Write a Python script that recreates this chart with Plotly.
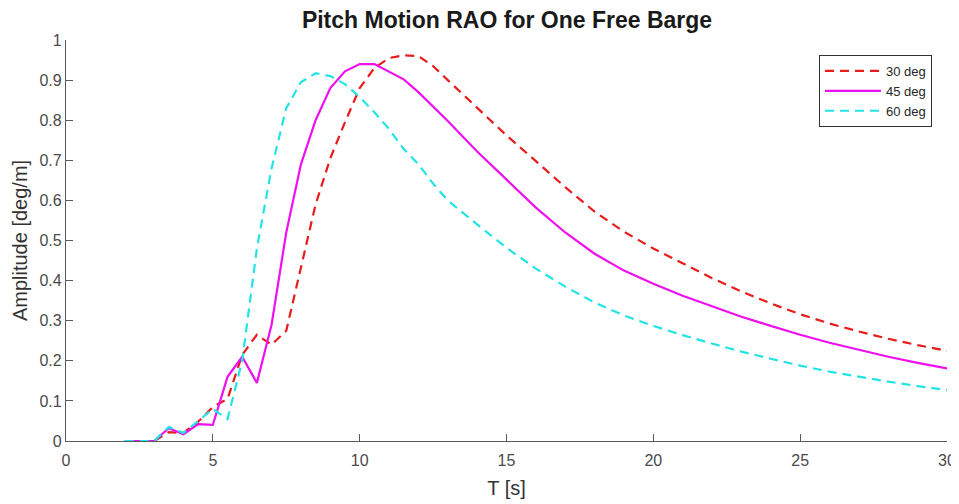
import plotly.graph_objects as go

T = [2, 2.5, 3, 3.5, 4, 4.5, 5, 5.5, 6, 6.5, 7, 7.5, 8, 8.5, 9, 9.5, 10, 10.5,
     11, 11.5, 12, 12.5, 13, 14, 15, 16, 17, 18, 19, 20, 21, 22, 23, 24, 25,
     26, 27, 28, 29, 30]

rao_30 = [0, 0, 0, 0.022, 0.02, 0.048, 0.085, 0.105, 0.215, 0.265, 0.24, 0.275,
          0.43, 0.59, 0.705, 0.795, 0.88, 0.93, 0.955, 0.962, 0.96, 0.935, 0.9,
          0.83, 0.762, 0.698, 0.633, 0.572, 0.522, 0.48, 0.442, 0.406, 0.373,
          0.343, 0.316, 0.293, 0.273, 0.255, 0.239, 0.225]

rao_45 = [0, 0, 0, 0.032, 0.017, 0.042, 0.04, 0.16, 0.21, 0.145, 0.29, 0.52,
          0.69, 0.80, 0.88, 0.922, 0.94, 0.94, 0.922, 0.902, 0.87, 0.835, 0.798,
          0.722, 0.652, 0.582, 0.52, 0.467, 0.425, 0.392, 0.362, 0.335, 0.31,
          0.287, 0.265, 0.245, 0.227, 0.21, 0.195, 0.181]

rao_60 = [0, 0, 0, 0.035, 0.02, 0.05, 0.08, 0.055, 0.2, 0.48, 0.68, 0.83,
          0.895, 0.917, 0.91, 0.89, 0.858, 0.82, 0.778, 0.728, 0.69, 0.642, 0.6,
          0.54, 0.482, 0.43, 0.385, 0.345, 0.313, 0.287, 0.264, 0.243, 0.223,
          0.205, 0.188, 0.173, 0.16, 0.148, 0.137, 0.127]

series_names = ["30 deg", "45 deg", "60 deg"]
x_ticks = [0, 5, 10, 15, 20, 25, 30]
y_ticks = [0, 0.1, 0.2, 0.3, 0.4, 0.5, 0.6, 0.7, 0.8, 0.9, 1]
y_tick_text = ["0", "0.1", "0.2", "0.3", "0.4", "0.5", "0.6", "0.7", "0.8", "0.9", "1"]

FONT = "Liberation Sans, Arial, Helvetica, sans-serif"
AX = "#5a5a5a"

fig = go.Figure()
fig.add_trace(go.Scatter(x=T, y=rao_30, mode="lines", name=series_names[0],
                         line=dict(color="#e81c1c", width=2.2, dash="9px,6px")))
fig.add_trace(go.Scatter(x=T, y=rao_45, mode="lines", name=series_names[1],
                         line=dict(color="#ee10ee", width=2.2)))
fig.add_trace(go.Scatter(x=T, y=rao_60, mode="lines", name=series_names[2],
                         line=dict(color="#22e4e4", width=2.2, dash="9px,6px")))

fig.update_layout(
    width=951, height=496,
    margin=dict(l=58, r=12, t=32, b=63, autoexpand=False),
    paper_bgcolor="white", plot_bgcolor="white",
    font=dict(family=FONT, color="#404040"),
    title=dict(text="<b>Pitch Motion RAO for One Free Barge</b>",
               x=0.5247, xanchor="center", y=0.975, yanchor="middle",
               font=dict(size=23, color="#1a1a1a", family=FONT)),
    showlegend=True,
    legend=dict(x=0.983, xanchor="right", y=0.9626, yanchor="top",
                bgcolor="white", bordercolor="#333333", borderwidth=1,
                font=dict(size=13, color="#262626", family=FONT),
                tracegroupgap=0, itemwidth=56),
    xaxis=dict(range=[0, 30], tickvals=x_ticks, showgrid=False, zeroline=False,
               automargin=False,
               showline=True, linecolor=AX, linewidth=1.3,
               ticks="inside", ticklen=7, tickcolor=AX, tickwidth=1.3,
               ticklabelstandoff=5,
               tickfont=dict(size=16, color="#4a4a4a"),
               title=dict(text="T [s]", font=dict(size=20, color="#333333"), standoff=12)),
    yaxis=dict(range=[0, 1], tickvals=y_ticks, ticktext=y_tick_text, showgrid=False,
               zeroline=False, automargin=False, showline=True, linecolor=AX, linewidth=1.3,
               ticks="inside", ticklen=7, tickcolor=AX, tickwidth=1.3,
               tickfont=dict(size=16, color="#4a4a4a"),
               title=dict(text="Amplitude [deg/m]", font=dict(size=20, color="#333333"),
                          standoff=6)),
)

fig.write_html("out.html")
